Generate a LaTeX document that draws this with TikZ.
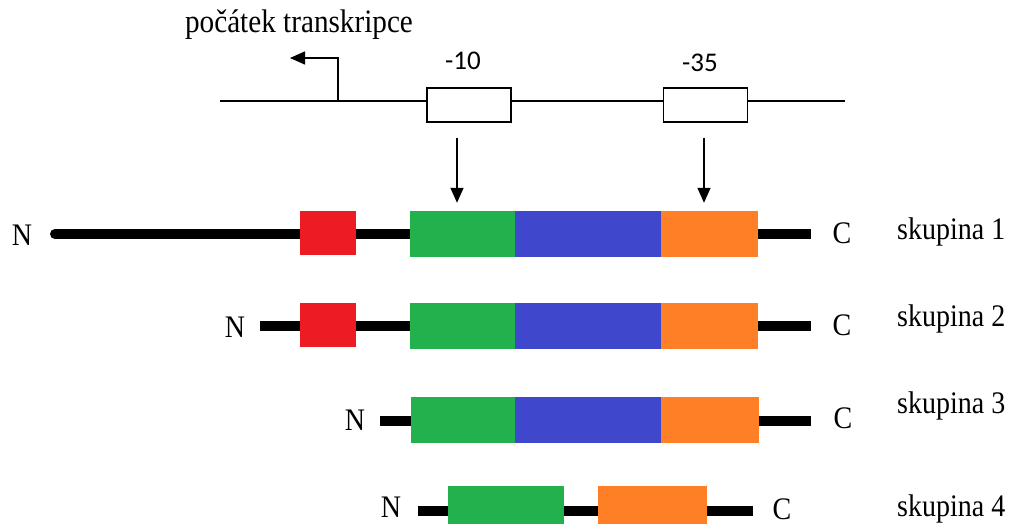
\documentclass[tikz,border=0pt]{standalone}
\usepackage{fontspec}
\setmainfont{Liberation Serif}
\newfontfamily\calibri{Carlito}
\usetikzlibrary{arrows.meta}
\definecolor{dred}{HTML}{ED1C24}
\definecolor{dgreen}{HTML}{22B14C}
\definecolor{dblue}{HTML}{3F48CC}
\definecolor{dorange}{HTML}{FF7F27}
\newcommand{\vst}[1]{\scalebox{1}[1.12]{#1}}
\begin{document}
\begin{tikzpicture}[x=1pt,y=-1pt,
  lbl/.style={inner sep=0pt,font=\fontsize{28}{30}\selectfont},
  numlbl/.style={inner sep=0pt,font=\calibri\fontsize{27}{29}\selectfont},
  dom/.style={rectangle,inner sep=0pt,draw=none,minimum height=46pt,anchor=west},
  regbox/.style={rectangle,inner sep=0pt,draw=black,line width=1.5pt,fill=white,minimum width=84pt,minimum height=34pt},
  backbone/.style={line width=10pt,black},
  thin/.style={line width=1.5pt,black},
  arr/.style={line width=1.5pt,black,-{Triangle[length=15pt,width=13pt]}}
]
\useasboundingbox (0,0) rectangle (1010,524);
\clip (0,0) rectangle (1010,524);

% promoter region
\coordinate (pL) at (220,101);
\coordinate (pR) at (845,101);
\draw[thin] (pL) -- (pR);
\node[regbox] (m10) at (469,105) {};
\node[regbox] (m35) at (705.5,105) {};
\node[numlbl,anchor=base] (t10) at (463,70) {-10};
\node[numlbl,anchor=base] (t35) at (700,72) {-35};

% transcription start
\coordinate (tss) at (338,101);
\coordinate (tsc) at (338,58);
\coordinate (tse) at (290,58);
\draw[arr] (tss) -- (tsc) -- (tse);
\node[lbl,anchor=base,font=\fontsize{29.2}{31}\selectfont] (tsl) at (299,33) {\vst{počátek transkripce}};

% row 1
\coordinate (s1) at (55,234);
\coordinate (e1) at (811,234);
\draw[backbone] (s1) -- (e1);
\fill[black] (s1) circle[radius=5pt];
\node[dom,fill=dred,minimum width=56pt,minimum height=44pt] (r1) at (300,233) {};
\node[dom,fill=dgreen,minimum width=105pt] (g1) at (410,234) {};
\node[dom,fill=dblue,minimum width=146pt] (b1) at (515,234) {};
\node[dom,fill=dorange,minimum width=97pt] (o1) at (661,234) {};
\node[lbl] (n1) at (22,235) {\vst{N}};
\node[lbl] (c1) at (842,233) {\vst{C}};
\node[lbl,anchor=base west] (k1) at (897,240) {\vst{skupina 1}};

% row 2
\coordinate (s2) at (260,326);
\coordinate (e2) at (811,326);
\draw[backbone] (s2) -- (e2);
\node[dom,fill=dred,minimum width=56pt,minimum height=44pt] (r2) at (300,325) {};
\node[dom,fill=dgreen,minimum width=105pt] (g2) at (410,326) {};
\node[dom,fill=dblue,minimum width=146pt] (b2) at (515,326) {};
\node[dom,fill=dorange,minimum width=97pt] (o2) at (661,326) {};
\node[lbl] (n2) at (235,327) {\vst{N}};
\node[lbl] (c2) at (842,325) {\vst{C}};
\node[lbl,anchor=base west] (k2) at (897,326) {\vst{skupina 2}};

% row 3
\coordinate (s3) at (380,421);
\coordinate (e3) at (811,421);
\draw[backbone] (s3) -- (e3);
\node[dom,fill=dgreen,minimum width=104pt] (g3) at (411,420) {};
\node[dom,fill=dblue,minimum width=146pt] (b3) at (515,420) {};
\node[dom,fill=dorange,minimum width=98pt] (o3) at (661,420) {};
\node[lbl] (n3) at (355,420) {\vst{N}};
\node[lbl] (c3) at (843,418) {\vst{C}};
\node[lbl,anchor=base west] (k3) at (897,413) {\vst{skupina 3}};

% row 4
\coordinate (s4) at (418,511);
\coordinate (e4) at (753,511);
\draw[backbone] (s4) -- (e4);
\node[dom,fill=dgreen,minimum width=116pt] (g4) at (448,509) {};
\node[dom,fill=dorange,minimum width=109pt] (o4) at (598,509) {};
\node[lbl] (n4) at (391,507) {\vst{N}};
\node[lbl] (c4) at (782,509) {\vst{C}};
\node[lbl,anchor=base west] (k4) at (897,516) {\vst{skupina 4}};

% arrows from promoter elements to domains
\draw[arr,shorten <=15pt,shorten >=8pt] ([xshift=-12pt]m10.south) -- ([xshift=-12pt]m10.south |- g1.north);
\draw[arr,shorten <=15pt,shorten >=8pt] ([xshift=-1.5pt]m35.south) -- ([xshift=-1.5pt]m35.south |- o1.north);
\end{tikzpicture}
\end{document}
